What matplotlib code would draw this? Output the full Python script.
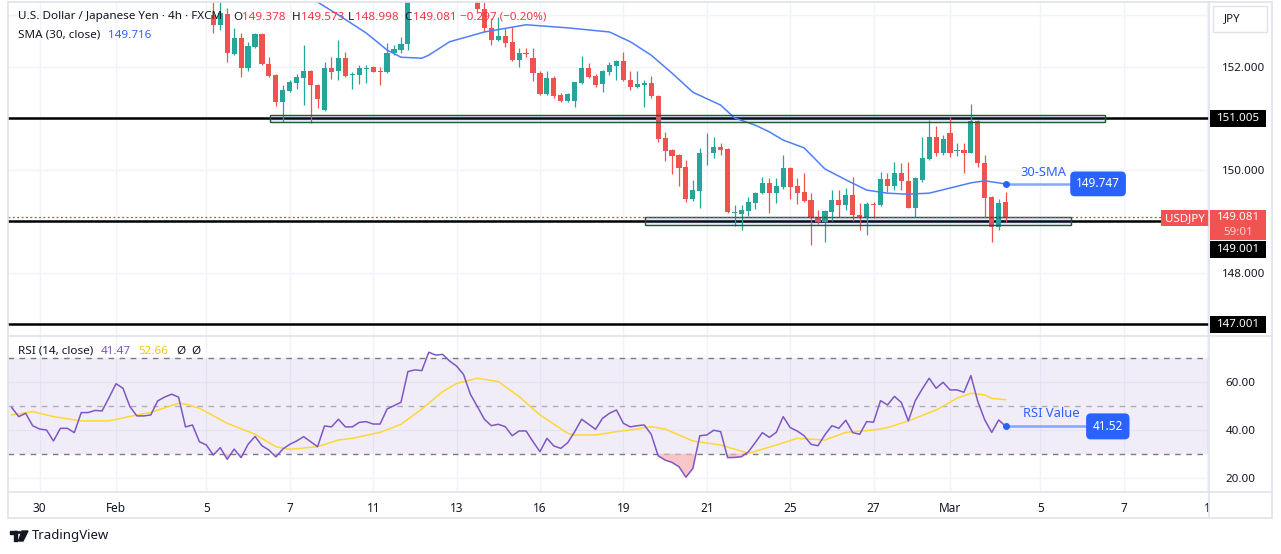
import matplotlib.pyplot as plt
from matplotlib.patches import Rectangle, Circle, Polygon
from matplotlib.lines import Line2D
import numpy as np

plt.rcParams['font.family'] = ['Noto Sans', 'DejaVu Sans']

# ---- data ----
opens = [153.00, 152.82, 153.03, 152.25, 152.56, 151.98, 152.39, 152.64, 152.06, 151.84,
         151.32, 151.53, 151.69, 151.79, 151.92, 151.65, 151.17, 151.98, 151.92, 152.17,
         151.84, 151.84, 151.97, 152.00, 151.93, 151.90, 152.27, 152.33, 152.45, 153.38,
         153.50, 153.45, 154.15, 154.08, 154.12, 153.98, 153.88, 153.72, 153.40, 153.12,
         152.76, 152.52, 152.60, 152.49, 152.14, 152.28, 152.17, 151.88, 151.48, 151.79,
         151.46, 151.34, 151.34, 151.69, 151.98, 151.83, 151.67, 151.90, 152.02, 152.12,
         151.75, 151.61, 151.66, 151.69, 151.44, 150.62, 150.39, 150.29, 150.06, 149.44,
         149.59, 150.34, 150.33, 150.45, 150.41, 149.17, 149.15, 149.20, 149.36, 149.55,
         149.75, 149.55, 149.67, 150.04, 149.69, 149.57, 149.42, 149.07, 148.99, 149.18,
         149.42, 149.32, 149.51, 149.13, 149.07, 149.34, 149.32, 149.82, 149.69, 149.94,
         149.79, 149.26, 149.81, 150.21, 150.64, 150.33, 150.72, 150.36, 150.39, 150.33,
         150.95, 150.14, 149.48, 148.89, 149.378]
highs = [153.35, 153.26, 153.15, 152.76, 152.66, 152.49, 152.66, 152.66, 152.19, 151.86,
         151.65, 151.75, 151.86, 152.43, 151.94, 151.67, 152.10, 152.19, 152.52, 152.29,
         151.90, 152.04, 152.04, 152.02, 152.00, 152.47, 152.43, 152.58, 153.45, 153.62,
         153.60, 154.30, 154.35, 154.25, 154.18, 154.05, 153.95, 153.80, 153.50, 153.26,
         152.95, 152.97, 152.76, 152.78, 152.37, 152.37, 152.37, 151.92, 151.92, 151.83,
         151.50, 151.50, 151.71, 152.21, 152.08, 151.86, 151.94, 152.10, 152.14, 152.29,
         151.92, 151.92, 151.75, 151.83, 151.46, 150.74, 150.41, 150.31, 150.19, 149.81,
         150.43, 150.72, 150.64, 150.52, 150.43, 149.32, 149.32, 149.48, 149.57, 149.86,
         149.84, 149.84, 150.29, 150.06, 149.84, 149.94, 149.55, 149.22, 149.22, 149.61,
         149.61, 149.65, 149.86, 149.36, 149.38, 149.38, 149.96, 149.94, 150.16, 150.14,
         150.16, 149.87, 150.64, 150.97, 150.85, 150.68, 151.03, 150.52, 150.52, 151.28,
         150.97, 150.29, 149.50, 149.44, 149.573]
lows = [152.66, 152.72, 152.10, 152.23, 151.81, 151.92, 152.37, 152.04, 151.81, 151.24,
        150.93, 151.51, 151.57, 151.26, 150.91, 151.20, 151.15, 151.77, 151.75, 151.81,
        151.57, 151.67, 151.69, 151.90, 151.65, 151.88, 152.23, 152.27, 152.33, 153.32,
        153.36, 153.42, 154.00, 153.98, 153.90, 153.80, 153.62, 153.35, 153.05, 152.68,
        152.43, 152.50, 152.39, 152.12, 152.00, 152.19, 151.73, 151.46, 151.46, 151.40,
        151.32, 151.32, 151.22, 151.67, 151.79, 151.61, 151.51, 151.84, 151.75, 151.73,
        151.55, 151.59, 151.22, 151.40, 150.54, 150.17, 149.92, 149.69, 149.38, 149.40,
        149.26, 150.10, 150.23, 150.30, 149.17, 148.91, 148.83, 149.10, 149.24, 149.53,
        149.17, 149.36, 149.63, 149.44, 149.34, 149.38, 148.54, 148.96, 148.60, 149.00,
        149.08, 149.22, 149.00, 148.83, 148.74, 149.07, 149.30, 149.57, 149.61, 149.61,
        149.26, 149.09, 149.77, 150.19, 150.27, 150.29, 150.25, 150.27, 149.94, 150.33,
        150.06, 149.09, 148.60, 148.83, 148.998]
closes = [152.82, 153.05, 152.27, 152.56, 151.98, 152.41, 152.64, 152.06, 151.83, 151.32,
          151.55, 151.71, 151.81, 151.92, 151.65, 151.38, 151.98, 151.90, 152.17, 151.83,
          151.86, 151.98, 151.99, 151.90, 151.91, 152.27, 152.35, 152.45, 153.38, 153.50,
          153.45, 154.15, 154.08, 154.12, 153.98, 153.88, 153.72, 153.40, 153.12, 152.76,
          152.52, 152.60, 152.47, 152.14, 152.27, 152.26, 151.88, 151.48, 151.79, 151.44,
          151.34, 151.48, 151.71, 151.98, 151.81, 151.65, 151.92, 152.04, 152.12, 151.75,
          151.61, 151.67, 151.68, 151.44, 150.60, 150.37, 150.27, 150.04, 149.44, 149.61,
          150.33, 150.35, 150.45, 150.39, 149.18, 149.19, 149.22, 149.38, 149.55, 149.75,
          149.55, 149.69, 150.04, 149.67, 149.55, 149.40, 149.07, 148.99, 149.20, 149.42,
          149.32, 149.51, 149.13, 149.07, 149.34, 149.32, 149.82, 149.69, 149.94, 149.79,
          149.26, 149.84, 150.23, 150.64, 150.33, 150.60, 150.33, 150.38, 150.33, 150.95,
          150.14, 149.46, 148.89, 149.36, 149.081]

sma_idx = [10, 15, 18, 22, 25, 27, 30, 31, 34, 39, 45, 51, 57, 60, 63, 66, 69, 73, 75, 78,
           80, 82, 85, 88, 91, 94, 97, 100, 103, 106, 109, 111, 114]
sma_val = [153.65, 153.26, 153.01, 152.66, 152.33, 152.19, 152.17, 152.23, 152.49, 152.68,
           152.82, 152.76, 152.68, 152.49, 152.23, 151.88, 151.51, 151.26, 151.01, 150.87,
           150.74, 150.58, 150.43, 150.02, 149.81, 149.61, 149.55, 149.53, 149.55, 149.65,
           149.75, 149.79, 149.73]

rsi_start = -29
rsi = [49.4, 45.6, 47.0, 41.8, 40.4, 40.0, 35.4, 40.7, 40.7, 38.9,
       47.3, 47.3, 48.2, 48.0, 53.6, 59.4, 57.5, 49.8, 45.9, 45.9,
       46.3, 52.2, 53.8, 55.0, 53.8, 41.3, 42.1, 35.1, 33.7, 29.5,
       32.6, 27.7, 32.0, 28.4, 34.0, 37.3, 33.4, 31.6, 28.7, 32.0,
       34.0, 35.4, 37.2, 35.1, 33.0, 41.7, 41.3, 44.5, 41.3, 41.3,
       43.2, 43.5, 42.5, 42.5, 48.8, 50.2, 51.6, 64.5, 65.2, 64.9,
       72.6, 71.4, 71.7, 68.9, 66.8, 63.3, 54.9, 49.8, 44.5, 41.8,
       42.4, 41.4, 37.6, 39.6, 39.6, 35.1, 30.9, 36.5, 33.3, 32.3,
       34.7, 39.3, 44.5, 42.4, 40.3, 44.9, 47.0, 48.4, 42.8, 41.3,
       41.8, 42.1, 38.2, 29.2, 27.4, 26.4, 24.6, 20.2, 23.9, 37.6,
       37.9, 39.9, 39.3, 28.4, 28.5, 28.8, 30.9, 34.8, 38.9, 36.9,
       39.0, 45.6, 41.0, 39.6, 37.6, 34.0, 33.4, 38.0, 41.8, 40.7,
       44.1, 38.9, 38.2, 43.5, 43.3, 52.3, 50.5, 54.1, 51.5, 43.8,
       52.3, 57.2, 61.7, 57.5, 60.0, 56.8, 56.8, 55.8, 62.8, 51.9,
       44.2, 39.0, 44.2, 41.52]

rsima_idx = [-29, -26, -23, -19, -15, -11, -9, -5, -4, -2, 2, 6, 9, 11, 15, 18, 20, 24, 27, 28,
             30, 33, 35, 38, 41, 44, 47, 51, 52, 55, 58, 60, 63, 65, 69, 73, 77, 81, 84, 88,
             91, 95, 97, 100, 104, 107, 109, 111, 112, 114]
rsima_val = [46.3, 47.7, 45.6, 43.8, 43.8, 46.3, 47.4, 51.2, 50.8, 49.1, 42.8, 38.2, 33.0, 31.9,
             33.0, 35.8, 36.5, 39.0, 42.4, 44.5, 48.8, 56.1, 59.5, 61.7, 60.3, 54.0, 46.3, 38.6,
             37.9, 37.9, 39.3, 40.0, 41.4, 40.4, 35.4, 33.7, 30.2, 33.7, 36.5, 35.8, 39.0, 40.0,
             41.0, 43.8, 48.4, 53.3, 55.4, 54.7, 53.3, 52.66]

levels = [151.005, 149.001, 147.001]
zones = [(8.2, 128.3, 150.93, 151.07), (62.1, 123.4, 148.93, 149.09)]
last_price = 149.081
sma_last = 149.747
rsi_last = 41.52

tick_idx = [-25, -14, -1, 11, 23, 35, 47, 59, 71, 83, 95, 106, 119, 131, 143]
tick_lab = ['30', 'Feb', '5', '7', '11', '13', '16', '19', '21', '25', '27', 'Mar', '5', '7', '1']

# ---- styling ----
W, H = 1281, 554
UP, DOWN = '#26a69a', '#ef5350'
TXT = '#131722'
BLUE = '#2962ff'
GRIDC = '#f0f3fa'
BORDER = '#e0e3eb'


def fx(x):
    return x / W


def fy(y):
    return 1 - y / H


fig = plt.figure(figsize=(W / 100, H / 100), dpi=100)
ax = fig.add_axes([fx(8), fy(335), (1209 - 8) / W, 333 / H])
ax2 = fig.add_axes([fx(8), fy(492), (1209 - 8) / W, 156 / H], sharex=ax)

ax.set_xlim(-29.54, 143.26)
ax.set_ylim(146.796, 153.262)
ax2.set_ylim(14.0, 79.41)
ppu = 333 / (153.262 - 146.796)  # pixels per yen

for a in (ax, ax2):
    for s in a.spines.values():
        s.set_visible(False)
    a.set_axisbelow(True)
    a.tick_params(length=0, colors=TXT, labelsize=8.3)
    a.grid(True, color=GRIDC, lw=1)

# candles
x = np.arange(len(opens))
o, h, l, c = map(np.array, (opens, highs, lows, closes))
cols = np.where(c >= o, UP, DOWN)
ax.vlines(x, l, h, colors=cols, lw=0.9, zorder=3)
ax.bar(x, np.maximum(np.abs(c - o), 0.012), bottom=np.minimum(o, c), width=0.74,
       color=cols, zorder=4)

# SMA
ax.plot(sma_idx, sma_val, color='#4f7ff7', lw=1.1, zorder=5)

# key levels and zones
for lv in levels:
    ax.axhline(lv, color='black', lw=1.8, zorder=2)
for x0, x1, y0, y1 in zones:
    ax.add_patch(Rectangle((x0, y0), x1 - x0, y1 - y0, facecolor=(0.16, 0.38, 1.0, 0.13),
                           edgecolor='#1e5a2a', lw=1, zorder=6))
ax.axhline(last_price, color='#f23645', lw=0.9, ls=(0, (1.5, 2)), zorder=6)

# price axis
ax.yaxis.tick_right()
ax.set_yticks(range(147, 154))
ax.set_yticklabels(['', '148.000', '', '150.000', '', '152.000', ''])
ax.tick_params(axis='y', pad=9)
ax.tick_params(axis='x', labelbottom=False)
ax.set_xticks(tick_idx)

ytr = ax.get_yaxis_transform()
bw = 56 / 1201
for lv, off in zip(levels, [0, 28.5, 0]):
    yc = lv - off / ppu
    ax.add_patch(Rectangle((1.001, yc - 8.5 / ppu), bw, 17 / ppu, transform=ytr,
                           facecolor='black', clip_on=False, zorder=8))
    ax.text(1.001 + bw / 2, yc, f'{lv:.3f}', transform=ytr, ha='center', va='center',
            color='white', fontsize=8.3, fontweight='bold', clip_on=False, zorder=9)
ax.add_patch(Rectangle((1.001, last_price - 23 / ppu), bw, 30 / ppu, transform=ytr,
                       facecolor='#f05350', clip_on=False, zorder=8))
ax.text(1.001 + bw / 2, last_price, f'{last_price:.3f}', transform=ytr, ha='center',
        va='center', color='white', fontsize=8.3, fontweight='bold', clip_on=False, zorder=9)
ax.text(1.001 + bw / 2, last_price - 15 / ppu, '59:01', transform=ytr, ha='center',
        va='center', color='#fbd0d2', fontsize=8.3, clip_on=False, zorder=9)
ax.add_patch(Rectangle((1 - 48 / 1201, last_price - 9 / ppu), 48 / 1201, 16 / ppu,
                       transform=ytr, facecolor='#f05350', clip_on=False, zorder=8))
ax.text(1 - 24 / 1201, last_price - 1 / ppu, 'USDJPY', transform=ytr, ha='center',
        va='center', color='white', fontsize=8.3, fontweight='bold', zorder=9)

# SMA callout
ax.plot([sma_idx[-1], 123.3], [sma_val[-1], sma_val[-1]], color='#84a6ff', lw=1.8, zorder=7)
ax.plot(sma_idx[-1], sma_val[-1], 'o', color=BLUE, ms=4, zorder=8)
ax.text(119.4, 149.96, '30-SMA', color=BLUE, fontsize=9.3, ha='center', va='center', zorder=8)
ax.text(127.3, sma_val[-1], f'{sma_last:.3f}', color='white', fontsize=8.5, fontweight='bold',
        ha='center', va='center', zorder=9,
        bbox=dict(boxstyle='round,pad=0.5,rounding_size=0.4', fc=BLUE, ec='none'))

# RSI pane
ri = np.arange(rsi_start, rsi_start + len(rsi))
rv = np.array(rsi)
ax2.axhspan(30, 70, color='#7e57c2', alpha=0.1, lw=0, zorder=1)
ax2.axhline(70, color='#787b86', lw=1, ls=(0, (4, 4)), zorder=2)
ax2.axhline(50, color='#787b86', lw=1, ls=(0, (4, 4)), alpha=0.55, zorder=2)
ax2.axhline(30, color='#787b86', lw=1, ls=(0, (4, 4)), zorder=2)
ax2.fill_between(ri, rv, 30, where=rv < 30, interpolate=True, color='#f6b3b8', alpha=0.75,
                 lw=0, zorder=2)
ax2.plot(rsima_idx, rsima_val, color='#fdd835', lw=1.1, zorder=3)
ax2.plot(ri, rv, color='#7e57c2', lw=1.1, zorder=4)
ax2.yaxis.tick_right()
ax2.set_yticks([20, 40, 60])
ax2.set_yticklabels(['20.00', '40.00', '60.00'])
ax2.tick_params(axis='y', pad=12)
ax2.set_xticks(tick_idx)
ax2.set_xticklabels(tick_lab)
ax2.tick_params(axis='x', pad=7, labelsize=8.5)

ax2.plot([ri[-1], 125.4], [rv[-1], rv[-1]], color='#84a6ff', lw=1.8, zorder=7)
ax2.plot(ri[-1], rv[-1], 'o', color=BLUE, ms=4, zorder=8)
ax2.text(120.5, 46.9, 'RSI Value', color=BLUE, fontsize=9.3, ha='center', va='center', zorder=8)
ax2.text(128.7, rv[-1], f'{rsi_last:.2f}', color='white', fontsize=8.5, fontweight='bold',
         ha='center', va='center', zorder=9,
         bbox=dict(boxstyle='round,pad=0.55,rounding_size=0.4', fc=BLUE, ec='none'))

# frame lines
for (x0, y0, x1, y1) in [(8, 2, 1272, 2), (8, 518, 1272, 518), (8, 2, 8, 518), (1272, 2, 1272, 518),
                         (1209, 2, 1209, 518), (8, 335.5, 1272, 335.5), (8, 492, 1272, 492)]:
    fig.add_artist(Line2D([fx(x0), fx(x1)], [fy(y0), fy(y1)], color=BORDER, lw=1.2))

# JPY box
fig.add_artist(Rectangle((fx(1213), fy(32)), 54 / W, 26 / H, facecolor='white',
                         edgecolor=BORDER, lw=1))
fig.text(fx(1232), fy(19), 'JPY', color=TXT, fontsize=8.3, ha='center', va='center')

# legends
fs = 8.4
y1 = fy(17)
fig.text(fx(18), y1, 'U.S. Dollar / Japanese Yen · 4h · FXCM', color=TXT, fontsize=fs, va='center')
for xp, lab, val in [(233, 'O', '149.378'), (292, 'H', '149.573'), (348, 'L', '148.998'),
                     (404, 'C', '149.081')]:
    fig.text(fx(xp), y1, lab, color=TXT, fontsize=fs, va='center')
    fig.text(fx(xp + (9 if lab in 'OHC' else 7)), y1, val, color='#f23645', fontsize=fs,
             va='center')
fig.text(fx(460), y1, '−0.297 (−0.20%)', color='#f23645', fontsize=fs, va='center')
fig.text(fx(18), fy(35), 'SMA (30, close)', color=TXT, fontsize=fs, va='center')
fig.text(fx(108), fy(35), '149.716', color=BLUE, fontsize=fs, va='center')

y3 = fy(351)
fig.text(fx(18), y3, 'RSI (14, close)', color=TXT, fontsize=fs, va='center')
fig.text(fx(101), y3, '41.47', color='#7e57c2', fontsize=fs, va='center')
fig.text(fx(138), y3, '52.66', color='#f5c518', fontsize=fs, va='center')
fig.text(fx(176), y3, 'Ø', color=TXT, fontsize=fs, va='center')
fig.text(fx(191), y3, 'Ø', color=TXT, fontsize=fs, va='center')

# TradingView mark
fig.add_artist(Rectangle((fx(10), fy(534)), 7 / W, 3 / H, color='#131722'))
fig.add_artist(Rectangle((fx(13.5), fy(541)), 3.5 / W, 10 / H, color='#131722'))
fig.add_artist(Circle((fx(19.5), fy(532.5)), 1.6 / W, color='#131722'))
fig.add_artist(Polygon([(fx(22), fy(531)), (fx(28), fy(531)), (fx(23), fy(541)),
                        (fx(18.5), fy(541))], color='#131722'))
fig.text(fx(32), fy(536), 'TradingView', color=TXT, fontsize=9.5, va='center')

fig.savefig('out.png', dpi=100, facecolor='white')
